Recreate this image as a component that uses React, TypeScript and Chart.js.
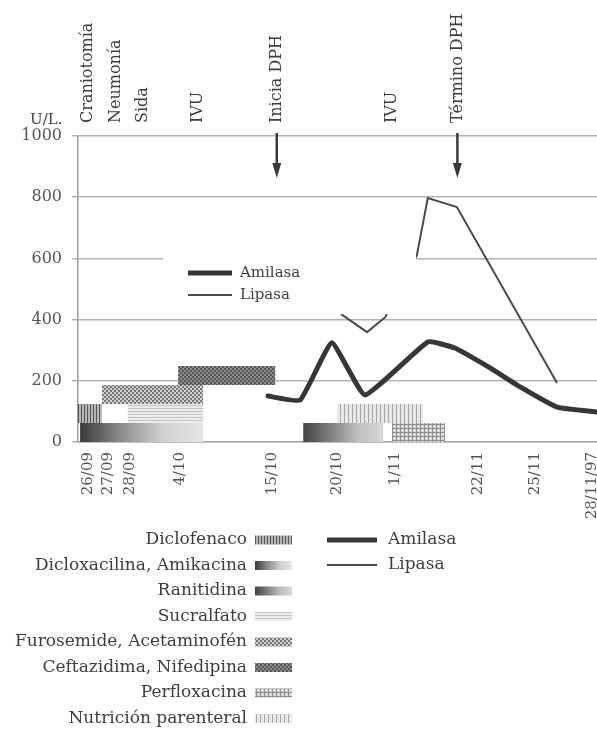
import React, { useEffect, useRef } from 'react';
import { Chart, registerables } from 'chart.js';

Chart.register(...registerables);

// ---- Data ----
const TICK_POS = [1.9, 5.8, 10.0, 19.7, 37.4, 49.9, 61.1, 77.1, 88.1, 99.0];
const TICK_LABELS = ['26/09', '27/09', '28/09', '4/10', '15/10', '20/10', '1/11', '22/11', '25/11', '28/11/97'];

const EVENT_LABELS = ['Craniotomía', 'Neumonía', 'Sida', 'IVU', 'Inicia DPH', 'IVU', 'Término DPH'];
const EVENT_POS = [1.9, 7.3, 12.5, 23.1, 38.3, 60.5, 73.1];
const ARROW_POS = [38.3, 73.1];

const AMILASA_X = [36.6, 42.8, 48.9, 55.3, 67.4, 72.6, 79.4, 85.2, 92.3, 100];
const AMILASA_Y = [150, 137, 324, 154, 327, 307, 242, 180, 114, 98];

const LIPASA_X = [50.7, 55.7, 59.2, 65.3, 67.4, 73.0, 92.3];
const LIPASA_Y = [418, 359, 408, 611, 797, 768, 193];

const DRUGS = [
  'Diclofenaco',
  'Dicloxacilina, Amikacina',
  'Ranitidina',
  'Sucralfato',
  'Furosemide, Acetaminofén',
  'Ceftazidima, Nifedipina',
  'Perfloxacina',
  'Nutrición parenteral',
];
const BAR_DRUG = [1, 0, 3, 4, 5, 2, 6, 7];
const BAR_START = [0.4, 0.0, 9.6, 4.6, 19.3, 43.4, 60.5, 49.9];
const BAR_END = [24.1, 4.6, 24.1, 24.1, 38.0, 58.8, 70.7, 66.5];
const BAR_LOW = [0, 62, 62, 124, 186, 0, 0, 62];
const BAR_HIGH = [62, 124, 124, 186, 248, 62, 62, 124];

const SERIES = ['Amilasa', 'Lipasa'];

// ---- Styles ----
const FONT = "'DejaVu Serif', serif";
const TEXT = '#3e3e3e';

type Fill = string | CanvasPattern | CanvasGradient;

function pattern(ctx: CanvasRenderingContext2D, w: number, h: number, draw: (g: CanvasRenderingContext2D) => void): Fill {
  const c = document.createElement('canvas');
  c.width = w;
  c.height = h;
  const g = c.getContext('2d')!;
  draw(g);
  return ctx.createPattern(c, 'repeat') || '#999';
}

function grad(ctx: CanvasRenderingContext2D, x0: number, x1: number, stops: string[]): Fill {
  if (!Number.isFinite(x0) || !Number.isFinite(x1) || x0 === x1) return stops[1];
  const gr = ctx.createLinearGradient(x0, 0, x1, 0);
  stops.forEach((s, i) => gr.addColorStop(i / (stops.length - 1), s));
  return gr;
}

const STYLES: ((ctx: CanvasRenderingContext2D, x0: number, x1: number) => Fill)[] = [
  // Diclofenaco
  (ctx) => pattern(ctx, 3, 3, (g) => { g.fillStyle = '#b4b4b4'; g.fillRect(0, 0, 3, 3); g.fillStyle = '#5a5a5a'; g.fillRect(0, 0, 1, 3); }),
  // Dicloxacilina, Amikacina
  (ctx, x0, x1) => grad(ctx, x0, x1, ['#3a3a3a', '#8c8c8c', '#cfcfcf', '#e6e6e6']),
  // Ranitidina
  (ctx, x0, x1) => grad(ctx, x0, x1, ['#444444', '#7e7e7e', '#bdbdbd', '#d8d8d8']),
  // Sucralfato
  (ctx) => pattern(ctx, 3, 3, (g) => { g.fillStyle = '#ececec'; g.fillRect(0, 0, 3, 3); g.fillStyle = '#c4c4c4'; g.fillRect(0, 0, 3, 1); }),
  // Furosemide, Acetaminofén
  (ctx) => pattern(ctx, 4, 4, (g) => { g.fillStyle = '#d0d0d0'; g.fillRect(0, 0, 4, 4); g.fillStyle = '#787878'; g.fillRect(0, 0, 2, 2); g.fillRect(2, 2, 2, 2); }),
  // Ceftazidima, Nifedipina
  (ctx) => pattern(ctx, 4, 4, (g) => { g.fillStyle = '#8a8a8a'; g.fillRect(0, 0, 4, 4); g.fillStyle = '#585858'; g.fillRect(0, 0, 2, 2); g.fillRect(2, 2, 2, 2); }),
  // Perfloxacina
  (ctx) => pattern(ctx, 4, 4, (g) => { g.fillStyle = '#dcdcdc'; g.fillRect(0, 0, 4, 4); g.fillStyle = '#8c8c8c'; g.fillRect(0, 0, 1, 4); g.fillRect(0, 0, 4, 1); }),
  // Nutrición parenteral
  (ctx) => pattern(ctx, 4, 4, (g) => { g.fillStyle = '#e8e8e8'; g.fillRect(0, 0, 4, 4); g.fillStyle = '#a8a8a8'; g.fillRect(0, 0, 1, 4); }),
];

const decor = {
  id: 'decor',
  afterDatasetsDraw(chart: any) {
    const c: CanvasRenderingContext2D = chart.ctx;
    const { left, top } = chart.chartArea;
    c.save();
    // inner legend box (white, covers grid and lines)
    const bx = left + 85;
    const by = top + 104;
    c.fillStyle = '#ffffff';
    c.fillRect(bx, by, 253, 74);
    c.strokeStyle = '#363636';
    c.lineCap = 'butt';
    c.lineWidth = 5;
    c.beginPath();
    c.moveTo(bx + 25, by + 33);
    c.lineTo(bx + 69, by + 33);
    c.stroke();
    c.strokeStyle = '#4a4a4a';
    c.lineWidth = 2;
    c.beginPath();
    c.moveTo(bx + 25, by + 55);
    c.lineTo(bx + 69, by + 55);
    c.stroke();
    c.fillStyle = TEXT;
    c.font = `15px ${FONT}`;
    c.textBaseline = 'middle';
    c.textAlign = 'left';
    c.fillText(SERIES[0], bx + 77, by + 33);
    c.fillText(SERIES[1], bx + 77, by + 55);
    c.restore();
  },
  afterDraw(chart: any) {
    const c: CanvasRenderingContext2D = chart.ctx;
    const xs = chart.scales.x;
    const { top } = chart.chartArea;
    c.save();
    c.fillStyle = TEXT;
    // event labels (rotated)
    c.font = `16px ${FONT}`;
    c.textBaseline = 'middle';
    c.textAlign = 'left';
    EVENT_LABELS.forEach((lab, i) => {
      const x = xs.getPixelForValue(EVENT_POS[i]);
      c.save();
      c.translate(x, top - 13);
      c.rotate(-Math.PI / 2);
      c.fillText(lab, 0, 0);
      c.restore();
    });
    // arrows
    c.strokeStyle = '#3a3a3a';
    c.fillStyle = '#3a3a3a';
    ARROW_POS.forEach((p) => {
      const x = xs.getPixelForValue(p);
      c.lineWidth = 2.5;
      c.beginPath();
      c.moveTo(x, top - 3);
      c.lineTo(x, top + 30);
      c.stroke();
      c.beginPath();
      c.moveTo(x - 4.5, top + 27);
      c.lineTo(x + 4.5, top + 27);
      c.lineTo(x, top + 42);
      c.closePath();
      c.fill();
    });
    // unit label
    c.fillStyle = TEXT;
    c.font = `15px ${FONT}`;
    c.textAlign = 'left';
    c.textBaseline = 'alphabetic';
    c.fillText('U/L.', 30, top - 12);

    // bottom legend: drugs
    c.font = `17px ${FONT}`;
    c.textBaseline = 'middle';
    DRUGS.forEach((d, i) => {
      const y = 540 + i * 25.5;
      c.fillStyle = TEXT;
      c.textAlign = 'right';
      c.fillText(d, 247, y);
      c.fillStyle = STYLES[i](c, 255, 292) as any;
      c.fillRect(255, y - 4.5, 37, 9);
    });
    // bottom legend: series
    c.textAlign = 'left';
    c.strokeStyle = '#363636';
    c.lineWidth = 5;
    c.beginPath();
    c.moveTo(327, 540);
    c.lineTo(377, 540);
    c.stroke();
    c.strokeStyle = '#4a4a4a';
    c.lineWidth = 2;
    c.beginPath();
    c.moveTo(327, 565);
    c.lineTo(377, 565);
    c.stroke();
    c.fillStyle = TEXT;
    c.fillText(SERIES[0], 388, 540);
    c.fillText(SERIES[1], 388, 565);
    c.restore();
  },
};

export default function App() {
  const ref = useRef<HTMLCanvasElement>(null);

  useEffect(() => {
    const canvas = ref.current;
    if (!canvas) return;

    const barSets = BAR_DRUG.map((d, i) => ({
      label: DRUGS[d],
      data: [
        { x: BAR_START[i], y: BAR_LOW[i] },
        { x: BAR_END[i], y: BAR_LOW[i] },
        { x: BAR_END[i], y: BAR_HIGH[i] },
        { x: BAR_START[i], y: BAR_HIGH[i] },
      ],
      fill: 'shape',
      borderWidth: 0,
      borderColor: 'transparent',
      pointRadius: 0,
      tension: 0,
      backgroundColor: (ctx: any) => {
        const sx = ctx.chart.scales && ctx.chart.scales.x;
        if (!sx) return '#999';
        return STYLES[d](ctx.chart.ctx, sx.getPixelForValue(BAR_START[i]), sx.getPixelForValue(BAR_END[i]));
      },
    }));

    const chart = new Chart(canvas, {
      type: 'line',
      data: {
        datasets: [
          {
            label: SERIES[0],
            data: AMILASA_X.map((x, i) => ({ x, y: AMILASA_Y[i] })),
            borderColor: '#363636',
            borderWidth: 5,
            pointRadius: 0,
            fill: false,
            tension: 0.12,
            borderJoinStyle: 'round',
            borderCapStyle: 'round',
          },
          {
            label: SERIES[1],
            data: LIPASA_X.map((x, i) => ({ x, y: LIPASA_Y[i] })),
            borderColor: '#4a4a4a',
            borderWidth: 2,
            pointRadius: 0,
            fill: false,
            tension: 0,
          },
          ...barSets,
        ] as any,
      },
      options: {
        animation: false,
        responsive: false,
        maintainAspectRatio: false,
        layout: { padding: { top: 136, left: 0, right: 0, bottom: 0 } },
        plugins: { legend: { display: false }, tooltip: { enabled: false } },
        scales: {
          x: {
            type: 'linear',
            min: 0,
            max: 100,
            afterBuildTicks: (s: any) => {
              s.ticks = TICK_POS.map((v) => ({ value: v }));
            },
            afterFit: (s: any) => {
              s.height = 287;
              s.paddingLeft = 0;
              s.paddingRight = 0;
            },
            grid: { display: false, drawTicks: false },
            border: { display: true, color: '#a8a8a8', width: 1.5 },
            ticks: {
              autoSkip: false,
              minRotation: 90,
              maxRotation: 90,
              padding: 10,
              color: '#555',
              font: { family: FONT, size: 15 },
              callback: (_v: any, i: number) => TICK_LABELS[i],
            },
          },
          y: {
            min: 0,
            max: 1000,
            afterFit: (s: any) => {
              s.width = 78;
              s.paddingTop = 0;
              s.paddingBottom = 0;
            },
            grid: { color: '#b4b4b4', lineWidth: 1.5, tickLength: 6, drawTicks: true },
            border: { display: true, color: '#9a9a9a', width: 1.5 },
            ticks: {
              stepSize: 200,
              padding: 10,
              color: '#555',
              font: { family: FONT, size: 16 },
              callback: (v: any) => String(v),
            },
          },
        },
      },
      plugins: [decor],
    } as any);

    return () => chart.destroy();
  }, []);

  return (
    <div style={{ position: 'absolute', left: 0, top: 0, width: 597, height: 729, background: '#fff' }}>
      <canvas ref={ref} width={597} height={729} style={{ width: 597, height: 729, filter: 'blur(0.5px)' }} />
    </div>
  );
}
